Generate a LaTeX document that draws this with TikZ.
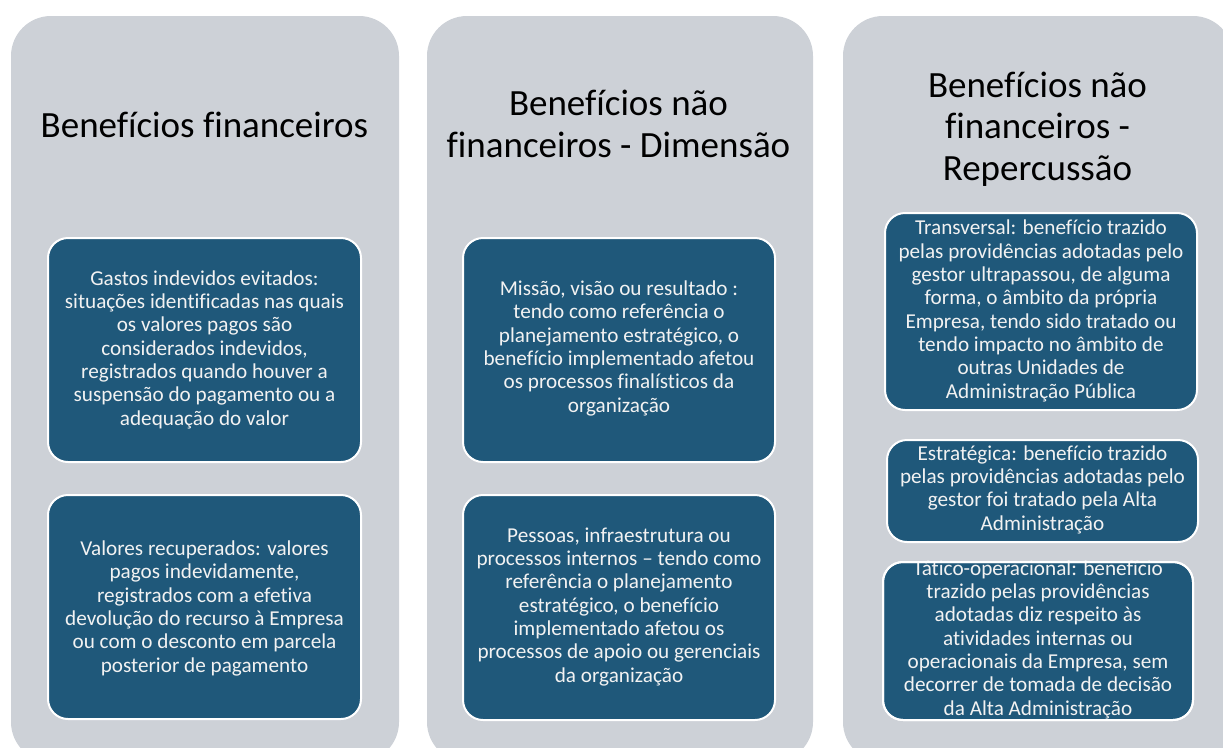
\documentclass[tikz,border=0pt]{standalone}
\usepackage{fontspec}
\setmainfont{Carlito}[Ligatures=NoCommon]
\definecolor{colgray}{RGB}{205,209,215}
\definecolor{boxblue}{RGB}{31,88,122}
\begin{document}
\begin{tikzpicture}[x=1pt,y=-1pt,
  column/.style={fill=colgray, rounded corners=40pt, anchor=north west, inner sep=0pt, outer sep=0pt, minimum height=746pt},
  bluebox/.style={fill=boxblue, draw=white, line width=2pt, rounded corners=20pt, inner sep=0pt, outer sep=0pt},
  boxedge/.style={draw=white, line width=2pt, rounded corners=20pt},
  boxtext/.style={text=white!95!black, align=center, inner sep=0pt, anchor=base, font=\fontsize{21.2}{23.3}\selectfont},
  titletext/.style={text=black, align=center, inner sep=0pt, anchor=base, font=\fontsize{37}{41.5}\selectfont}]
\useasboundingbox (0,0) rectangle (1223,747);
\clip (0,0) rectangle (1223,747);

% columns
\node[column, minimum width=388pt] (c1) at (11,16) {};
\node[column, minimum width=386pt] (c2) at (427,16) {};
\node[column, minimum width=390pt] (c3) at (843,16) {};

% titles (anchored at the baseline of the last line)
\node[titletext] (h1) at (204.5,137) {Benefícios financeiros};
\node[titletext] (h2) at (618.5,157) {Benefícios não\\financeiros - Dimensão};
\node[titletext] (h3) at (1037.5,180) {Benefícios não\\financeiros -\\Repercussão};

% blue boxes
\node[bluebox, minimum width=313pt, minimum height=224pt] (b1) at (204.5,350) {};
\node[bluebox, minimum width=313pt, minimum height=224pt] (b2) at (204.5,607) {};
\node[bluebox, minimum width=312pt, minimum height=224pt] (b3) at (619,350) {};
\node[bluebox, minimum width=312pt, minimum height=225pt] (b4) at (619,607.5) {};
\node[bluebox, minimum width=312pt, minimum height=197pt] (b5) at (1041,311.5) {};
\node[bluebox, minimum width=311pt, minimum height=102pt] (b6) at (1042.5,491) {};
\node[bluebox, minimum width=310pt, minimum height=158pt] (b7) at (1038,641) {};

% texts (anchored at the baseline of the last line)
\node[boxtext] (t1) at (204.5,425) {Gastos indevidos evitados:\\situações identificadas nas quais\\os valores pagos são\\considerados indevidos,\\registrados quando houver a\\suspensão do pagamento ou a\\adequação do valor};
\node[boxtext] (t2) at (204.5,672) {Valores recuperados: valores\\pagos indevidamente,\\registrados com a efetiva\\devolução do recurso à Empresa\\ou com o desconto em parcela\\posterior de pagamento};
\node[boxtext] (t3) at (619,412) {Missão, visão ou resultado :\\tendo como referência o\\planejamento estratégico, o\\benefício implementado afetou\\os processos finalísticos da\\organização};
\node[boxtext] (t4) at (619,682) {Pessoas, infraestrutura ou\\processos internos – tendo como\\referência o planejamento\\estratégico, o benefício\\implementado afetou os\\processos de apoio ou gerenciais\\da organização};
\node[boxtext] (t5) at (1041,398) {Transversal: benefício trazido\\pelas providências adotadas pelo\\gestor ultrapassou, de alguma\\forma, o âmbito da própria\\Empresa, tendo sido tratado ou\\tendo impacto no âmbito de\\outras Unidades de\\Administração Pública};
\node[boxtext] (t6) at (1042.5,530) {Estratégica: benefício trazido\\pelas providências adotadas pelo\\gestor foi tratado pela Alta\\Administração};
\node[boxtext] (t7) at (1038,715) {Tático-operacional: benefício\\trazido pelas providências\\adotadas diz respeito às\\atividades internas ou\\operacionais da Empresa, sem\\decorrer de tomada de decisão\\da Alta Administração};

% border of the overflowing box drawn over its text
\draw[boxedge] (b7.north west) rectangle (b7.south east);
\end{tikzpicture}
\end{document}
